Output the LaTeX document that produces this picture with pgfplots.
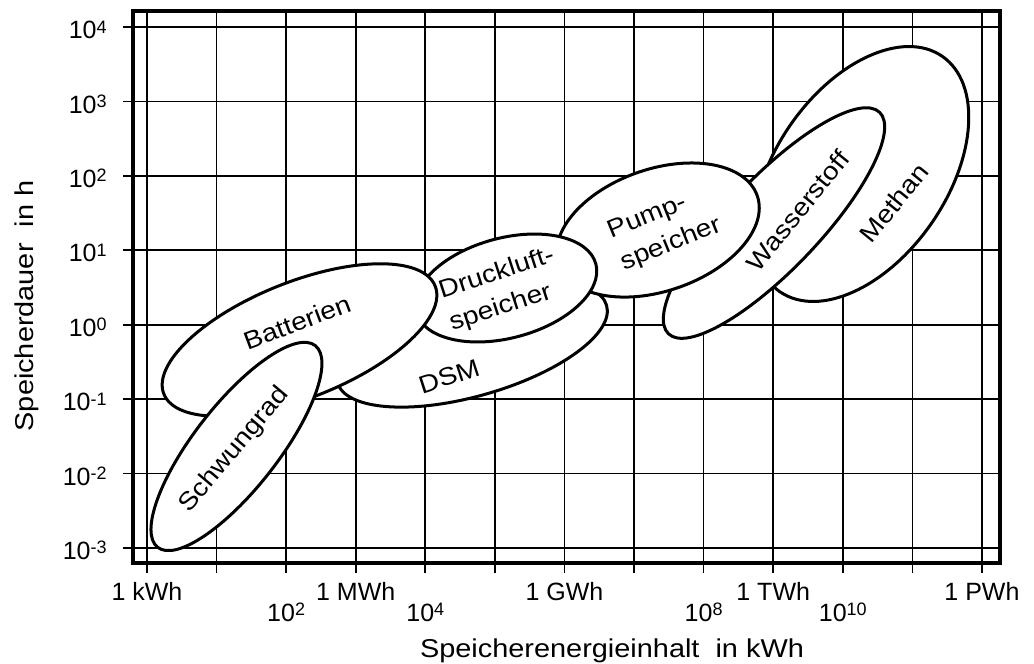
\documentclass[border=0pt]{standalone}
\usepackage{fontspec}
\setmainfont{Liberation Sans}
\newfontfamily\widefont[FakeStretch=1.12]{Liberation Sans}
\usepackage{pgfplots}
\pgfplotsset{compat=1.18}
\newcommand{\wtext}{\widefont\fontsize{12.5}{17}\selectfont}
\newcommand{\axlab}{\widefont\fontsize{12.9}{15}\selectfont}
\newcommand{\tickf}{\fontsize{12.5}{14}\selectfont}
\newcommand{\ex}[1]{\raisebox{2.8pt}{\fontsize{9}{10}\selectfont #1}}
\begin{document}
\begin{tikzpicture}
\begin{axis}[
  scale only axis, width=433.5pt, height=276pt,
  xmode=log, ymode=log,
  xmin=0.6295, xmax=1.816e12, ymin=6.281e-4, ymax=1.641e4,
  xtick={1,1e1,1e2,1e3,1e4,1e5,1e6,1e7,1e8,1e9,1e10,1e11,1e12},
  ytick={1e-3,1e-2,1e-1,1,1e1,1e2,1e3,1e4},
  xticklabels={}, yticklabels={},
  xminorticks=false, yminorticks=false,
  grid=major, major grid style={black, line width=0.85pt},
  tick align=outside, tick pos=left,
  major tick length=5pt,
  major tick style={black, line width=0.85pt},
  axis line style={black, line width=1.7pt},
  clip=false,
]
\coordinate (SW) at (rel axis cs:0,0);
\coordinate (NE) at (rel axis cs:1,1);
% ellipses (centre in data coordinates, radii, tilt)
\draw[fill=white, line width=1.5pt] (axis cs:1.828e10,105.9) ellipse [x radius=71.5pt, y radius=43pt, rotate=55.4];
\draw[fill=white, line width=1.5pt] (axis cs:1.026e9,23.23) ellipse [x radius=76.5pt, y radius=23pt, rotate=46.4];
\draw[fill=white, line width=1.5pt] (axis cs:46880,0.5508) ellipse [x radius=70pt, y radius=26pt, rotate=16];
\draw[fill=white, line width=1.5pt] (axis cs:2.208e7,18.71) ellipse [x radius=52.5pt, y radius=30.5pt, rotate=19];
\draw[fill=white, line width=1.5pt] (axis cs:144500,3.112) ellipse [x radius=46.5pt, y radius=25pt, rotate=15];
\draw[fill=white, line width=1.5pt] (axis cs:155.6,0.6223) ellipse [x radius=73pt, y radius=29pt, rotate=21.7];
\draw[fill=white, line width=1.5pt] (axis cs:19.32,0.02312) ellipse [x radius=64pt, y radius=21pt, rotate=52];
% ellipse labels
\node[font=\wtext, rotate=51] at (axis cs:5.445e10,43.15) {Methan};
\node[font=\wtext, rotate=51] at (axis cs:2.270e9,33.73) {Wasserstoff};
\node[font=\wtext, rotate=18] at (axis cs:21880,0.2018) {DSM};
\node[font=\wtext, rotate=22, align=left] at (axis cs:2.786e7,19.32) {Pump-\\speicher};
\node[font=\wtext, rotate=18, align=left] at (axis cs:126500,2.924) {Druckluft-\\speicher};
\node[font=\wtext, rotate=20.6] at (axis cs:143.2,1.086) {Batterien};
\node[font=\wtext, rotate=50] at (axis cs:18.41,0.02075) {Schwungrad};
% x tick labels
\node[font=\tickf, anchor=base, yshift=-18.75pt] at (axis cs:1,6.281e-4) {1 kWh};
\node[font=\tickf, anchor=base, yshift=-18.75pt] at (axis cs:1e3,6.281e-4) {1 MWh};
\node[font=\tickf, anchor=base, yshift=-18.75pt] at (axis cs:1e6,6.281e-4) {1 GWh};
\node[font=\tickf, anchor=base, yshift=-18.75pt] at (axis cs:1e9,6.281e-4) {1 TWh};
\node[font=\tickf, anchor=base, yshift=-18.75pt] at (axis cs:1e12,6.281e-4) {1 PWh};
\node[font=\tickf, anchor=base, yshift=-29.25pt] at (axis cs:1e2,6.281e-4) {10\ex{2}};
\node[font=\tickf, anchor=base, yshift=-29.25pt] at (axis cs:1e4,6.281e-4) {10\ex{4}};
\node[font=\tickf, anchor=base, yshift=-29.25pt] at (axis cs:1e8,6.281e-4) {10\ex{8}};
\node[font=\tickf, anchor=base, yshift=-29.25pt] at (axis cs:1e10,6.281e-4) {10\ex{10}};
% y tick labels
\node[font=\tickf, inner sep=0pt, anchor=base east, xshift=-13pt, yshift=-5.8pt] at (axis cs:0.6295,1e4) {10\ex{4}};
\node[font=\tickf, inner sep=0pt, anchor=base east, xshift=-13pt, yshift=-5.8pt] at (axis cs:0.6295,1e3) {10\ex{3}};
\node[font=\tickf, inner sep=0pt, anchor=base east, xshift=-13pt, yshift=-5.8pt] at (axis cs:0.6295,1e2) {10\ex{2}};
\node[font=\tickf, inner sep=0pt, anchor=base east, xshift=-13pt, yshift=-5.8pt] at (axis cs:0.6295,1e1) {10\ex{1}};
\node[font=\tickf, inner sep=0pt, anchor=base east, xshift=-13pt, yshift=-5.8pt] at (axis cs:0.6295,1) {10\ex{0}};
\node[font=\tickf, inner sep=0pt, anchor=base east, xshift=-13pt, yshift=-5.8pt] at (axis cs:0.6295,1e-1) {10\ex{-1}};
\node[font=\tickf, inner sep=0pt, anchor=base east, xshift=-13pt, yshift=-5.8pt] at (axis cs:0.6295,1e-2) {10\ex{-2}};
\node[font=\tickf, inner sep=0pt, anchor=base east, xshift=-13pt, yshift=-5.8pt] at (axis cs:0.6295,1e-3) {10\ex{-3}};
% axis labels
\node[font=\axlab, anchor=base, yshift=-47.2pt] at (rel axis cs:0.5525,0) {Speicherenergieinhalt\ \ in kWh};
\node[font=\axlab, xshift=-49.5pt, rotate=90, anchor=base] at (rel axis cs:0,0.4656) {Speicherdauer\ \ in h};
\end{axis}
\pgfresetboundingbox
\path[use as bounding box] ([xshift=-66.5pt,yshift=-50.5pt]SW) rectangle ([xshift=17pt,yshift=5.5pt]NE);
\end{tikzpicture}
\end{document}
